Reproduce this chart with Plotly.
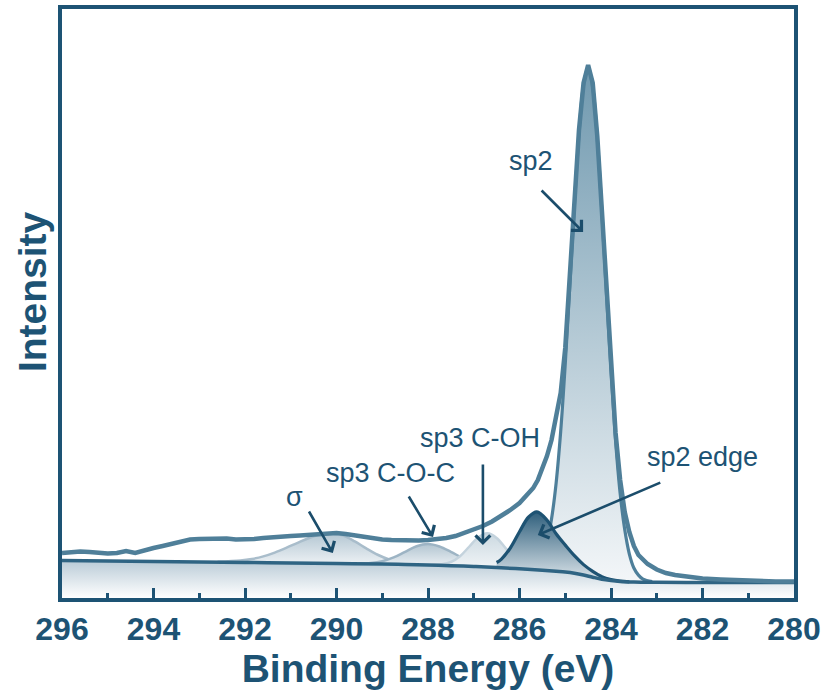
import plotly.graph_objects as go

# ---------------- data (intensity in arbitrary units) ----------------
# measured C1s envelope
env_E = [296.0, 295.8, 295.6, 295.4, 295.2, 295.0, 294.8, 294.6, 294.4, 294.2, 294.0, 293.8, 293.6,
         293.4, 293.2, 293.0, 292.8, 292.6, 292.4, 292.2, 292.0, 291.8, 291.6, 291.4, 291.2, 291.0,
         290.8, 290.6, 290.4, 290.2, 290.0, 289.8, 289.6, 289.4, 289.2, 289.0, 288.8, 288.6, 288.4,
         288.2, 288.0, 287.8, 287.6, 287.4, 287.2, 287.0, 286.8, 286.6, 286.4, 286.2, 286.0, 285.8,
         285.7, 285.6, 285.5, 285.4, 285.3, 285.2, 285.1, 285.0, 284.9, 284.8, 284.7, 284.6, 284.5,
         284.4, 284.3, 284.2, 284.1, 284.0, 283.9, 283.8, 283.7, 283.6, 283.5, 283.4, 283.2, 283.0,
         282.8, 282.6, 282.4, 282.2, 282.0, 281.6, 281.2, 280.8, 280.4, 280.0]
env_I = [45, 46, 46.5, 46, 45, 44.5, 45, 47, 45, 48, 50, 52, 54.5,
         56.5, 58.5, 59, 59.5, 59, 59.5, 58.5, 58.5, 59, 60, 61, 61.5, 62,
         62.5, 63, 63.5, 64.5, 65, 64, 62.5, 61, 60, 58.5, 58, 57.5, 57,
         57.5, 58, 58.5, 60, 62, 65, 68, 72, 76.5, 82, 88, 95, 104,
         110, 118, 130, 142, 158, 180, 205, 250, 318, 398, 468, 515, 533,
         515, 462, 388, 310, 232, 165, 118, 86, 66, 52, 43, 34, 28.5,
         25, 23, 21.5, 20.5, 19.5, 18.5, 17.5, 17, 16.5, 16.5]

# Shirley-type background
bg_E = [296, 295, 294, 293, 292, 291, 290, 289, 288.5, 288, 287.5, 287, 286.5, 286, 285.5, 285.2,
        285, 284.8, 284.6, 284.4, 284.2, 284, 283.8, 283.5, 283, 282, 281, 280]
bg_I = [37.5, 37, 36.5, 36, 35.5, 35, 34.5, 34, 33.5, 33, 32.3, 31.5, 30.5, 29.2, 27.7, 26.7,
        26, 24.8, 23, 20.8, 18.8, 17.5, 16.6, 16, 15.7, 15.5, 15.5, 15.5]

# fitted components: energy, upper curve, background under it
sigma_E = [292.6, 292.1, 291.85, 291.6, 291.35, 291.1, 290.85, 290.6, 290.35, 290.1, 289.85,
           289.6, 289.35, 289.1, 288.85, 288.6, 288.35, 288.1]
sigma_top = [36.2, 37.45, 39.0, 41.6, 45.4, 50.05, 55.2, 60.0, 63.4, 64.55, 62.35,
             56.6, 49.6, 43.25, 38.55, 35.7, 34.15, 33.4]
sigma_base = [35.8, 35.55, 35.4, 35.3, 35.2, 35.05, 34.9, 34.8, 34.7, 34.55, 34.45,
              34.3, 34.2, 34.05, 33.85, 33.6, 33.35, 33.1]

coc_E = [289.5, 289.25, 289.0, 288.75, 288.5, 288.25, 288.0, 287.75, 287.5, 287.25, 287.0, 286.75, 286.5]
coc_top = [34.45, 35.0, 36.8, 40.55, 46.2, 51.75, 54.0, 51.55, 46.2, 40.2, 35.5, 32.6, 31.0]
coc_base = [34.25, 34.1, 34.0, 33.75, 33.5, 33.25, 33.0, 32.65, 32.3, 31.9, 31.5, 31.0, 30.5]

coh_E = [287.9, 287.7, 287.5, 287.3, 287.1, 286.9, 286.7, 286.5, 286.3, 286.1, 285.9, 285.7, 285.5]
coh_top = [33.05, 33.7, 36.0, 41.8, 51.25, 60.7, 64.7, 60.1, 49.55, 39.3, 32.6, 29.4, 27.9]
coh_base = [32.85, 32.6, 32.3, 32.0, 31.65, 31.1, 30.7, 30.5, 29.95, 29.5, 28.9, 28.3, 27.7]

edge_E = [286.5, 286.4, 286.2, 286.0, 285.8, 285.62, 285.4, 285.2, 285.0, 284.8, 284.6, 284.4,
          284.2, 284.0, 283.8, 283.6]
edge_top = [35.5, 38.7, 50.0, 66.2, 81.0, 86.1, 77.9, 64.2, 52.9, 42.3, 33.4, 26.7,
            21.4, 18.5, 16.9, 16.2]
edge_base = [30.5, 30.0, 29.7, 29.2, 28.6, 28.1, 27.3, 26.7, 26.0, 24.8, 23.0, 20.8,
             18.8, 17.5, 16.6, 16.2]

sp2_E = [285.9, 285.7, 285.6, 285.5, 285.4, 285.3, 285.2, 285.1, 285.0, 284.9, 284.8, 284.7, 284.6,
         284.5, 284.4, 284.3, 284.2, 284.1, 284.0, 283.9, 283.8, 283.7, 283.6, 283.5, 283.4, 283.3, 283.1]
sp2_top = [29.4, 31.3, 35.0, 41.7, 55.3, 79.0, 114.7, 166.3, 234.0, 312.4, 392.8, 463.9, 513.0,
           529.9, 510.8, 459.8, 386.8, 305.1, 225.5, 157.0, 104.6, 68.4, 44.2, 30.0, 22.9, 18.8, 16.3]
sp2_base = [28.9, 28.3, 28.0, 27.7, 27.3, 27.0, 26.7, 26.35, 26.0, 25.4, 24.8, 23.9, 23.0,
            21.9, 20.8, 19.8, 18.8, 18.1, 17.5, 17.0, 16.6, 16.4, 16.2, 16.0, 15.9, 15.85, 15.75]

x_ticks = [296, 294, 292, 290, 288, 286, 284, 282, 280]

# labels: (text, text position E, I), arrow (tail E, I) -> (head E, I)
labels = ["sp2", "sp2 edge", "sp3 C-OH", "sp3 C-O-C", "σ"]
label_E = [285.75, 282.0, 286.86, 288.81, 290.91]
label_I = [437, 141, 160, 125, 101]
arrow_tail_E = [285.55, 282.89, 286.8, 288.44, 290.62]
arrow_tail_I = [409, 116, 135, 103, 88]
arrow_head_E = [284.61, 285.6, 286.8, 287.89, 290.08]
arrow_head_I = [366, 63, 53, 61, 45]

# ---------------- styling ----------------
DARK = "#1d5374"
FONT = "Liberation Sans, Arial, sans-serif"

fig = go.Figure()

# region under the background
fig.add_trace(go.Scatter(
    x=bg_E, y=bg_I, mode="lines", line=dict(width=0, shape="spline"), fill="tozeroy",
    fillgradient=dict(type="vertical", start=0, stop=38,
                      colorscale=[[0, "rgba(255,255,255,1)"], [1, "rgba(184,202,214,1)"]]),
    hoverinfo="skip", showlegend=False))


def add_component(E, top, base, line_color, line_width, c_low, c_high, stop):
    fig.add_trace(go.Scatter(x=E, y=base, mode="lines", line=dict(width=0, shape="spline"),
                             hoverinfo="skip", showlegend=False))
    fig.add_trace(go.Scatter(
        x=E, y=top, mode="lines", line=dict(color=line_color, width=line_width, shape="spline"),
        fill="tonexty",
        fillgradient=dict(type="vertical", start=min(base), stop=stop,
                          colorscale=[[0, c_low], [1, c_high]]),
        hoverinfo="skip", showlegend=False))


add_component(sigma_E, sigma_top, sigma_base, "#a9bdcb", 2.5, "#eef2f5", "#b4c7d3", max(sigma_top))
add_component(coc_E, coc_top, coc_base, "#9db4c4", 2.5, "#eef2f5", "#b2c5d1", max(coc_top))
add_component(coh_E, coh_top, coh_base, "#c4d3dd", 2.5, "#f3f6f8", "#cbd9e1", max(coh_top))
add_component(sp2_E, sp2_top, sp2_base, "#4e7f9a", 3.2, "#f3f6f8", "#7099af", max(sp2_top))
add_component(edge_E, edge_top, edge_base, "#1e5373", 3.2, "#dfe7ec", "#2f5f7c", max(edge_top))

# background line
fig.add_trace(go.Scatter(x=bg_E, y=bg_I, mode="lines",
                         line=dict(color="#2f6483", width=3.5, shape="spline"),
                         hoverinfo="skip", showlegend=False))
# measured envelope
fig.add_trace(go.Scatter(x=env_E, y=env_I, mode="lines",
                         line=dict(color="#4f7f99", width=4.5),
                         hoverinfo="skip", showlegend=False))

for t, tx, ty, ax, ay, hx, hy in zip(labels, label_E, label_I, arrow_tail_E, arrow_tail_I,
                                     arrow_head_E, arrow_head_I):
    fig.add_annotation(x=tx, y=ty, xref="x", yref="y", text=t, showarrow=False,
                       font=dict(family=FONT, size=27, color=DARK),
                       xanchor="center", yanchor="middle")
    fig.add_annotation(x=hx, y=hy, ax=ax, ay=ay, xref="x", yref="y", axref="x", ayref="y",
                       text="", showarrow=True, arrowhead=4, arrowsize=1.1, arrowwidth=2.6,
                       arrowcolor="#1b4d6b", standoff=0, startstandoff=0)

# y-axis title placed as rotated text
fig.add_annotation(x=-0.041, y=0.521, xref="paper", yref="paper", text="Intensity",
                   textangle=-90, showarrow=False, xanchor="center", yanchor="middle",
                   font=dict(family=FONT, size=39, color=DARK, weight="bold"))

fig.update_layout(
    width=826, height=691,
    margin=dict(l=62, r=32, t=9, b=93, autoexpand=False),
    paper_bgcolor="white", plot_bgcolor="white",
    font=dict(family=FONT, color=DARK),
    showlegend=False,
)
fig.update_xaxes(
    range=[296, 280], tickvals=x_ticks, ticktext=[str(v) for v in x_ticks],
    ticks="inside", ticklen=10, tickwidth=3, tickcolor=DARK,
    minor=dict(ticks="inside", ticklen=5, tickwidth=3, tickcolor=DARK, dtick=1, tick0=281),
    showline=True, linewidth=3.5, linecolor=DARK, mirror=True,
    showgrid=False, zeroline=False,
    tickfont=dict(family=FONT, size=32, color=DARK, weight="bold"),
    title=dict(text="Binding Energy (eV)", standoff=0,
               font=dict(family=FONT, size=39, color=DARK, weight="bold")),
)
fig.update_yaxes(
    range=[0, 589], showticklabels=False, ticks="",
    showline=True, linewidth=3.5, linecolor=DARK, mirror=True,
    showgrid=False, zeroline=False,
)

fig.write_html("out.html", config={"displayModeBar": False},
               post_script="document.body.style.margin='0';")
